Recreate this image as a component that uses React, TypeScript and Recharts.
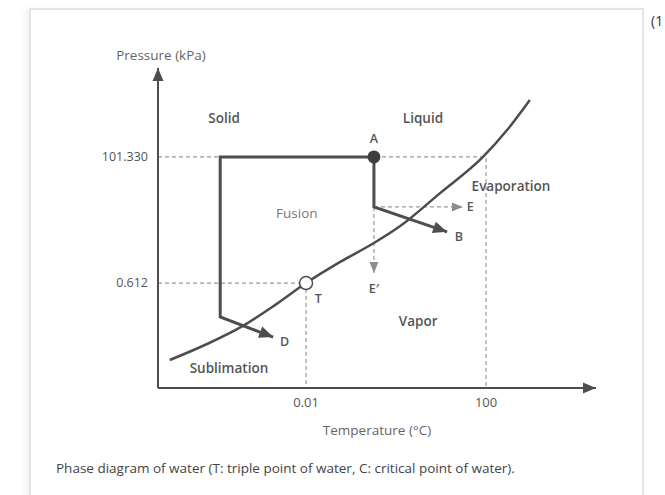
import React from 'react';
import { ComposedChart, Line, Scatter, XAxis, YAxis } from 'recharts';

// chart units: t = temperature axis position (0..100), p = pressure axis position (0..100)
const tempTicks = [33.8, 74.9];
const tempTickLabels = ['0.01', '100'];
const pressTicks = [32.8, 72.2];
const pressTickLabels = ['0.612', '101.330'];

// sublimation / vaporization boundary
const boundaryCurve = [
  { t: 2.7, p: 8.75 },
  { t: 11.2, p: 13.75 },
  { t: 19.4, p: 19.4 },
  { t: 26.7, p: 25.9 },
  { t: 33.8, p: 32.8 },
  { t: 41.6, p: 39.4 },
  { t: 49.3, p: 45.3 },
  { t: 55.3, p: 50.6 },
  { t: 64.4, p: 60.9 },
  { t: 74.2, p: 72.2 },
  { t: 79.7, p: 80.6 },
  { t: 84.9, p: 90.0 },
];

// process paths starting at A
const pathToD = [
  { t: 49.3, p: 72.2 },
  { t: 14.2, p: 72.2 },
  { t: 14.2, p: 22.2 },
  { t: 26.3, p: 15.9 },
];
const pathToB = [
  { t: 49.3, p: 72.2 },
  { t: 49.3, p: 56.6 },
  { t: 66.0, p: 48.8 },
];
const arrowToE = [
  { t: 49.3, p: 56.6 },
  { t: 69.6, p: 56.6 },
];
const arrowToE2 = [
  { t: 49.3, p: 56.6 },
  { t: 49.3, p: 35.9 },
];

// guide lines
const guide101 = [
  { t: 0, p: 72.2 },
  { t: 74.9, p: 72.2 },
  { t: 74.9, p: 0 },
];
const guide0612 = [
  { t: 0, p: 32.8 },
  { t: 33.8, p: 32.8 },
  { t: 33.8, p: 0 },
];

const xAxisLine = [
  { t: 0, p: 0 },
  { t: 100, p: 0 },
];
const yAxisLine = [
  { t: 0, p: 0 },
  { t: 0, p: 100 },
];

const pointA = [{ t: 49.3, p: 72.2 }];
const pointT = [{ t: 33.8, p: 32.8 }];

const phaseLabels = [
  { t: 15.1, p: 84.4, text: 'Solid' },
  { t: 60.5, p: 84.4, text: 'Liquid' },
  { t: 59.4, p: 21.0, text: 'Vapor' },
  { t: 80.6, p: 63.1, text: 'Evaporation' },
  { t: 16.2, p: 6.3, text: 'Sublimation' },
];
const fusionLabel = [{ t: 31.7, p: 54.7, text: 'Fusion' }];
const letterLabels = [
  { t: 49.3, p: 77.9, text: 'A' },
  { t: 71.3, p: 56.6, text: 'E' },
  { t: 68.7, p: 47.4, text: 'B' },
  { t: 49.3, p: 31.2, text: 'E′' },
  { t: 36.6, p: 28.1, text: 'T' },
  { t: 28.9, p: 14.4, text: 'D' },
];

const FONT = '"Open Sans", "Noto Sans", sans-serif';
const DARK = '#4d4d4d';
const GUIDE = '#9a9a9a';

const arrowDot = (series: { t: number; p: number }[], color: string, len = 12, half = 5) =>
  (props: any) => {
    const { cx, cy, index, points } = props;
    if (index !== series.length - 1) return <g key={`d${index}`} />;
    let px: number;
    let py: number;
    if (points && points[index - 1]) {
      px = points[index - 1].x;
      py = points[index - 1].y;
    } else {
      px = cx - (series[index].t - series[index - 1].t) * 4.38;
      py = cy + (series[index].p - series[index - 1].p) * 3.2;
    }
    const a = Math.atan2(cy - py, cx - px);
    const bx = cx - len * Math.cos(a);
    const by = cy - len * Math.sin(a);
    const pts = [
      `${cx},${cy}`,
      `${bx + half * Math.sin(a)},${by - half * Math.cos(a)}`,
      `${bx - half * Math.sin(a)},${by + half * Math.cos(a)}`,
    ].join(' ');
    return <polygon key={`d${index}`} points={pts} fill={color} stroke="none" />;
  };

const textShape = (weight: number, color: string, size: number) => (props: any) => (
  <text
    x={props.cx}
    y={props.cy}
    textAnchor="middle"
    dominantBaseline="central"
    fontSize={size}
    fontWeight={weight}
    fill={color}
    fontFamily={FONT}
  >
    {props.payload.text}
  </text>
);

const PressureTitle = (props: any) => {
  const vb = props.viewBox || {};
  return (
    <text
      x={vb.x + vb.width + 3}
      y={vb.y - 13}
      textAnchor="middle"
      dominantBaseline="central"
      fontSize={13.5}
      fill="#666"
      fontFamily={FONT}
    >
      Pressure (kPa)
    </text>
  );
};

export default function App() {
  return (
    <div
      style={{
        position: 'absolute',
        left: 0,
        top: 0,
        width: 665,
        height: 495,
        overflow: 'hidden',
        background: '#fff',
        fontFamily: FONT,
      }}
    >
      <div
        style={{
          position: 'absolute',
          left: 29,
          top: 8,
          width: 611,
          height: 540,
          border: '2px solid #e3e3e3',
          boxShadow: '-5px 0 6px rgba(0,0,0,0.04)',
        }}
      />
      <div style={{ position: 'absolute', left: 651, top: 11, fontSize: 14, color: '#333' }}>(1</div>
      <div style={{ position: 'absolute', left: 0, top: 0 }}>
        <ComposedChart width={665} height={495} margin={{ top: 68, right: 69, bottom: 77, left: 98 }}>
          <XAxis
            type="number"
            dataKey="t"
            domain={[0, 100]}
            ticks={tempTicks}
            tickFormatter={(v: number) => tempTickLabels[tempTicks.indexOf(v)] ?? ''}
            axisLine={false}
            tickLine={false}
            tickSize={6}
            tickMargin={4}
            height={30}
            tick={{ fill: '#555', fontSize: 13, fontFamily: FONT }}
            label={{ value: 'Temperature (°C)', position: 'bottom', offset: 7, fill: '#666', fontSize: 13.5, fontFamily: FONT }}
          />
          <YAxis
            type="number"
            dataKey="p"
            domain={[0, 100]}
            ticks={pressTicks}
            tickFormatter={(v: number) => pressTickLabels[pressTicks.indexOf(v)] ?? ''}
            axisLine={false}
            tickLine={false}
            tickSize={6}
            tickMargin={4}
            width={60}
            tick={{ fill: '#555', fontSize: 12.5, fontFamily: FONT }}
            label={<PressureTitle />}
          />

          <Line data={guide101} dataKey="p" type="linear" stroke={GUIDE} strokeWidth={1.2} strokeDasharray="4 3" dot={false} activeDot={false} isAnimationActive={false} />
          <Line data={guide0612} dataKey="p" type="linear" stroke={GUIDE} strokeWidth={1.2} strokeDasharray="4 3" dot={false} activeDot={false} isAnimationActive={false} />
          <Line data={arrowToE} dataKey="p" type="linear" stroke={GUIDE} strokeWidth={1.2} strokeDasharray="4 3" dot={arrowDot(arrowToE, '#8c8c8c', 11, 4.5)} activeDot={false} isAnimationActive={false} />
          <Line data={arrowToE2} dataKey="p" type="linear" stroke={GUIDE} strokeWidth={1.2} strokeDasharray="4 3" dot={arrowDot(arrowToE2, '#8c8c8c', 11, 4.5)} activeDot={false} isAnimationActive={false} />

          <Line data={xAxisLine} dataKey="p" type="linear" stroke={DARK} strokeWidth={2} dot={arrowDot(xAxisLine, DARK, 13, 5.5)} activeDot={false} isAnimationActive={false} />
          <Line data={yAxisLine} dataKey="p" type="linear" stroke={DARK} strokeWidth={2} dot={arrowDot(yAxisLine, DARK, 13, 5.5)} activeDot={false} isAnimationActive={false} />

          <Line data={boundaryCurve} dataKey="p" type="monotone" stroke={DARK} strokeWidth={2.5} dot={false} activeDot={false} isAnimationActive={false} />
          <Line data={pathToD} dataKey="p" type="linear" stroke={DARK} strokeWidth={3} dot={arrowDot(pathToD, DARK, 14, 6)} activeDot={false} isAnimationActive={false} />
          <Line data={pathToB} dataKey="p" type="linear" stroke={DARK} strokeWidth={3} dot={arrowDot(pathToB, DARK, 14, 6)} activeDot={false} isAnimationActive={false} />

          <Scatter
            data={pointA}
            isAnimationActive={false}
            shape={(props: any) => <circle cx={props.cx} cy={props.cy} r={6.5} fill="#3f3f3f" />}
          />
          <Scatter
            data={pointT}
            isAnimationActive={false}
            shape={(props: any) => <circle cx={props.cx} cy={props.cy} r={6.5} fill="#fff" stroke={DARK} strokeWidth={1.5} />}
          />

          <Scatter data={phaseLabels} isAnimationActive={false} shape={textShape(600, '#555', 13.5)} />
          <Scatter data={fusionLabel} isAnimationActive={false} shape={textShape(400, '#777', 13.5)} />
          <Scatter data={letterLabels} isAnimationActive={false} shape={textShape(600, '#555', 12.5)} />
        </ComposedChart>
      </div>
      <div style={{ position: 'absolute', left: 56, top: 459, fontSize: 13.5, color: '#444', whiteSpace: 'nowrap' }}>
        Phase diagram of water (T: triple point of water, C: critical point of water).
      </div>
    </div>
  );
}
